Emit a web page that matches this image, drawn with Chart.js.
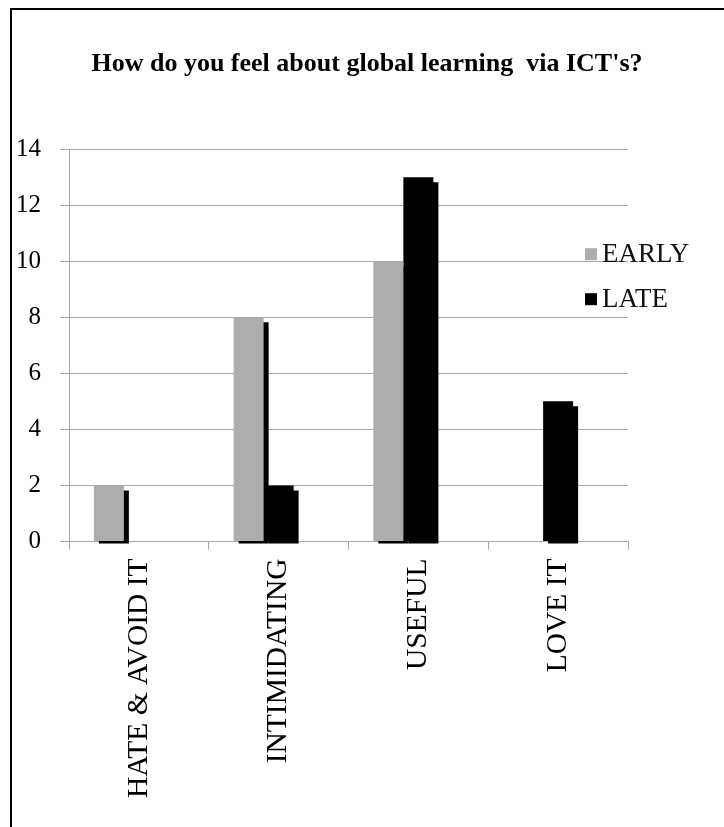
<!DOCTYPE html>
<html>
<head>
<meta charset="utf-8">
<script src="https://cdn.jsdelivr.net/npm/chart.js@4.4.1/dist/chart.umd.min.js"></script>
<style>
  html, body { margin: 0; padding: 0; background: #fff; overflow: hidden; }
  #frame { position: absolute; left: 10px; top: 8px; width: 730px; height: 840px; border: 2px solid #000; box-sizing: border-box; }
  #wrap { position: absolute; left: 0; top: 0; width: 724px; height: 827px; }
</style>
</head>
<body>
<div id="frame"></div>
<div id="wrap"><canvas id="bar-chartcanvas"></canvas></div>
<script>
// chart values
var categories = ["HATE & AVOID IT", "INTIMIDATING", "USEFUL", "LOVE IT"];
var earlyValues = [2, 8, 10, 0];
var lateValues = [0, 2, 13, 5];
var yMax = 14;
var yStep = 2;

var serif = "'Liberation Serif', 'Times New Roman', serif";

// Excel style drop shadow behind the bars
var shadowPlugin = {
    id: "barShadow",
    beforeDatasetDraw: function(chart) {
        var ctx = chart.ctx;
        ctx.save();
        ctx.shadowColor = "#000";
        ctx.shadowOffsetX = 5;
        ctx.shadowOffsetY = 5;
        ctx.shadowBlur = 0;
    },
    afterDatasetDraw: function(chart) {
        chart.ctx.restore();
    }
};

// legend sits inside the plot, like the original
var legendPlugin = {
    id: "insideLegend",
    afterDraw: function(chart) {
        var ctx = chart.ctx;
        var area = chart.chartArea;
        var x = area.right - 43;
        var y = area.top + 105;
        ctx.save();
        ctx.font = "27px " + serif;
        ctx.textBaseline = "middle";
        ctx.textAlign = "left";
        chart.data.datasets.forEach(function(ds) {
            if (!ds.label) return;
            ctx.fillStyle = ds.backgroundColor;
            ctx.fillRect(x, y - 6, 12, 12);
            ctx.fillStyle = "#111";
            ctx.fillText(ds.label, x + 17, y + 1);
            y += 45;
        });
        ctx.restore();
    }
};

var ctx = document.getElementById("bar-chartcanvas");

var data = {
    labels: categories,
    datasets: [
        {
            label: "EARLY",
            data: earlyValues,
            backgroundColor: "#adadad",
            clip: {left: 0, top: 0, right: 0, bottom: 2}
        },
        {
            label: "LATE",
            data: lateValues,
            backgroundColor: "#000000",
            clip: {left: 0, top: 0, right: 0, bottom: 2}
        },
        {
            // empty third series kept by the original sheet
            label: "",
            data: [],
            backgroundColor: "#ffffff"
        }
    ]
};

var options = {
    responsive: true,
    maintainAspectRatio: false,
    animation: false,
    layout: {
        padding: {left: 10, right: 0, top: 0, bottom: 20}
    },
    datasets: {
        bar: {
            categoryPercentage: 0.644,
            barPercentage: 1.0
        }
    },
    plugins: {
        legend: {display: false},
        tooltip: {enabled: false},
        title: {
            display: true,
            text: "How do you feel about global learning  via ICT's?",
            color: "#000",
            font: {family: serif, size: 26, weight: "bold"},
            padding: {top: 49, bottom: 69}
        }
    },
    scales: {
        x: {
            grid: {
                display: true,
                drawOnChartArea: false,
                drawTicks: true,
                tickLength: 8,
                color: "#a6a6a6"
            },
            border: {color: "#a6a6a6"},
            ticks: {
                color: "#000",
                font: {family: serif, size: 29.5},
                minRotation: 90,
                maxRotation: 90,
                padding: 9
            }
        },
        y: {
            min: 0,
            max: yMax,
            afterFit: function(axis) { axis.width = 59; },
            grid: {
                color: "#a6a6a6",
                tickLength: 9
            },
            border: {color: "#a6a6a6"},
            ticks: {
                stepSize: yStep,
                color: "#000",
                font: {family: serif, size: 25},
                padding: 19
            }
        },
        yRight: {
            position: "right",
            afterFit: function(axis) { axis.width = 96; },
            grid: {display: false},
            border: {display: false},
            ticks: {display: false}
        }
    }
};

var chart = new Chart(ctx, {
    type: "bar",
    data: data,
    options: options,
    plugins: [shadowPlugin, legendPlugin]
});
</script>
</body>
</html>
